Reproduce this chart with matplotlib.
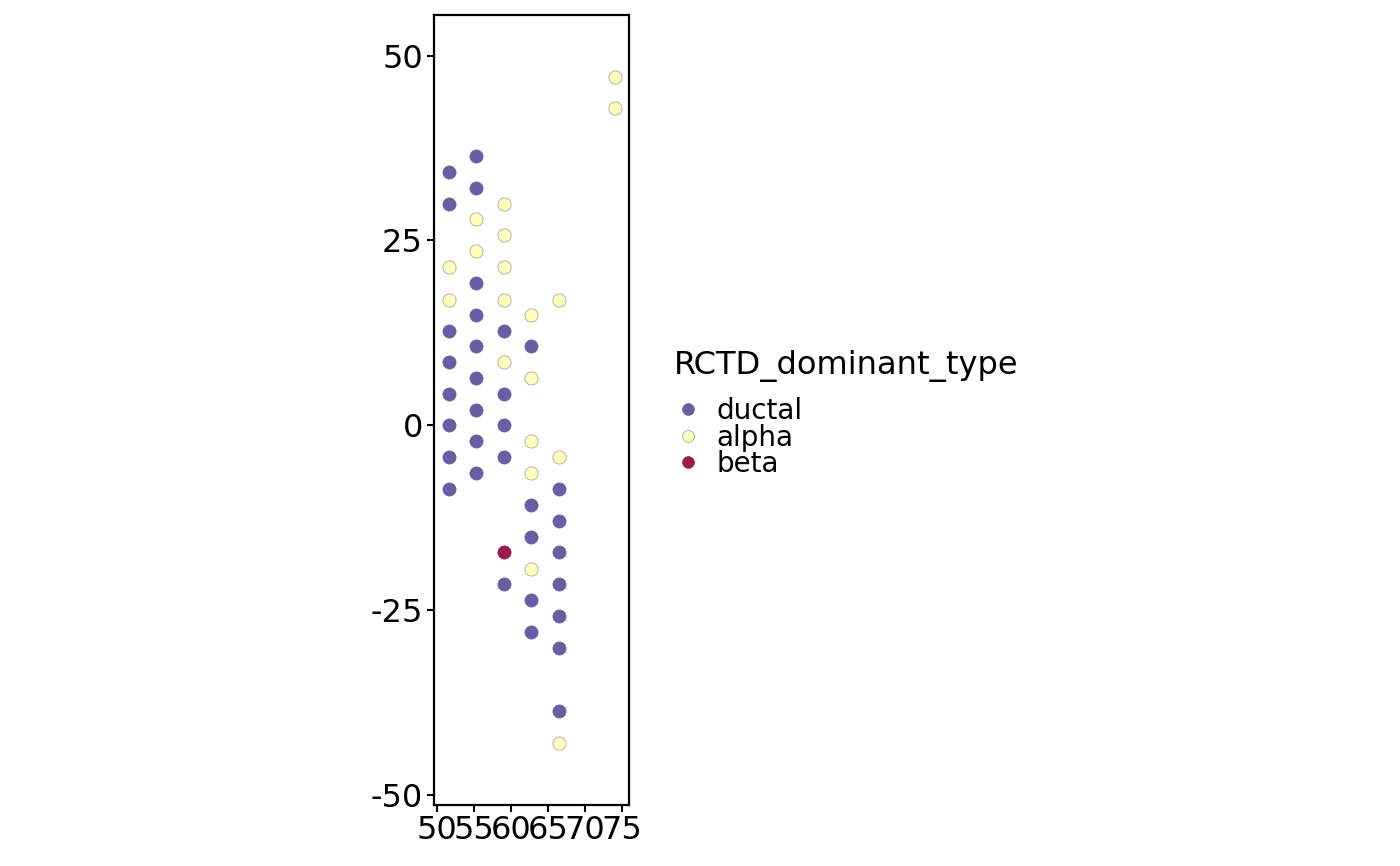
import matplotlib.pyplot as plt
from matplotlib.lines import Line2D

plt.rcParams['axes.unicode_minus'] = False

# spot coordinates and dominant cell type
x_ductal = [51.6] * 8 + [55.3] * 9 + [59.05] * 5 + [62.7] * 5 + [66.5] * 7
y_ductal = [34.2, 29.9, 12.7, 8.5, 4.2, 0.0, -4.3, -8.7,
            36.4, 32.1, 19.2, 14.9, 10.7, 6.4, 2.0, -2.2, -6.5,
            12.7, 4.2, 0.0, -4.3, -21.5,
            10.7, -10.8, -15.2, -23.7, -28.0,
            -8.7, -13.0, -17.2, -21.5, -25.8, -30.2, -38.7]

x_alpha = [51.6, 51.6, 55.3, 55.3, 59.05, 59.05, 59.05, 59.05, 59.05,
           62.7, 62.7, 62.7, 62.7, 62.7, 66.5, 66.5, 66.5, 74.05, 74.05]
y_alpha = [21.4, 17.0, 27.9, 23.5, 29.9, 25.7, 21.4, 17.0, 8.5,
           14.9, 6.4, -2.2, -6.5, -19.4, 17.0, -4.3, -43.0, 47.1, 42.9]

x_beta = [59.05]
y_beta = [-17.2]

types = ['ductal', 'alpha', 'beta']
colors = {'ductal': '#6a5da6', 'alpha': '#ffffbf', 'beta': '#9e1a4d'}
edges = {'ductal': '#6a5da6', 'alpha': '#9a9a80', 'beta': '#9e1a4d'}

fig = plt.figure(figsize=(14, 8.66), dpi=100)
ax = fig.add_axes([0.31, 0.0704, 0.139, 0.9123])

for t, xs, ys in [('ductal', x_ductal, y_ductal),
                  ('alpha', x_alpha, y_alpha),
                  ('beta', x_beta, y_beta)]:
    ax.scatter(xs, ys, s=90, c=colors[t], edgecolors=edges[t], linewidths=0.5, zorder=3)

ax.set_xlim(49.6, 75.95)
ax.set_ylim(-51.4, 55.5)
ax.set_xticks([50, 55, 60, 65, 70, 75])
ax.set_yticks([-50, -25, 0, 25, 50])
ax.tick_params(labelsize=23, length=5, width=1.5, direction='out', pad=3)
ax.tick_params(axis='x', pad=2)
for sp in ax.spines.values():
    sp.set_linewidth(1.6)

handles = [Line2D([], [], marker='o', ls='', markersize=8.5,
                  markerfacecolor=colors[t], markeredgecolor=edges[t],
                  markeredgewidth=0.5, label=t) for t in types]
leg = fig.legend(handles=handles, title='RCTD_dominant_type', loc='upper left',
                 bbox_to_anchor=(0.4733, 0.609), frameon=False, fontsize=20,
                 title_fontsize=23.1, handletextpad=0.55, labelspacing=-0.05,
                 handlelength=1.0, borderaxespad=0)
leg._legend_box.align = 'left'
leg._legend_box.sep = 11

fig.savefig('out.png', dpi=100)
